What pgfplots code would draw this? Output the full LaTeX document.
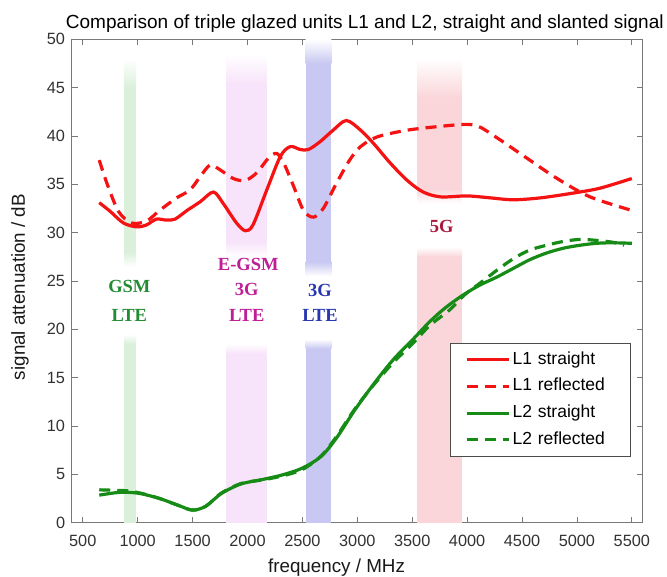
\documentclass[border=0pt]{standalone}
\usepackage{fontspec}
\setmainfont{Liberation Sans}
\newfontfamily\serifb{Liberation Serif}
\usepackage{pgfplots}
\pgfplotsset{compat=1.18}
\definecolor{lone}{RGB}{245,18,18}
\definecolor{ltwo}{RGB}{22,140,22}
\definecolor{bgsm}{RGB}{218,240,218}
\definecolor{begsm}{RGB}{248,228,250}
\definecolor{bthree}{RGB}{200,200,242}
\definecolor{bfive}{RGB}{250,214,218}
\definecolor{tgsm}{RGB}{35,140,50}
\definecolor{tegsm}{RGB}{190,30,150}
\definecolor{tthree}{RGB}{40,55,175}
\definecolor{tfive}{RGB}{170,25,60}
\definecolor{axgray}{RGB}{120,120,120}
\definecolor{tickgray}{RGB}{50,50,50}
% x1 x2 color lowtop-1 lowtop gaptop gaptop+1.5 top-3 top
\newcommand{\band}[9]{%
 \fill[#3] (axis cs:#1,0) rectangle (axis cs:#2,#4);
 \shade[bottom color=#3, top color=white] (axis cs:#1,#4) rectangle (axis cs:#2,#5);
 \shade[bottom color=white, top color=#3] (axis cs:#1,#6) rectangle (axis cs:#2,#7);
 \fill[#3] (axis cs:#1,#7) rectangle (axis cs:#2,#8);
 \shade[bottom color=#3, top color=white] (axis cs:#1,#8) rectangle (axis cs:#2,#9);
}
\begin{document}
\begin{tikzpicture}
\useasboundingbox (-71.8pt,-54.3pt) rectangle (595.2pt,522.7pt);
\begin{axis}[
  scale only axis,
  width=571pt, height=483.4pt,
  xmin=400, xmax=5600, ymin=0, ymax=50,
  xtick={500,1000,...,5500},
  ytick={0,5,...,50},
  tick pos=both,
  tick align=inside,
  major tick length=6pt,
  axis line style={axgray, line width=0.8pt},
  tick style={axgray, line width=0.8pt},
  /pgf/number format/assume math mode=true,
  /pgf/number format/1000 sep={},
  tick label style={font=\fontsize{16.3}{19}\selectfont, text=tickgray},
  xticklabel style={yshift=-9pt},
  yticklabel style={xshift=-3.2pt},
  legend cell align=left,
  legend image code/.code={\draw[#1] (0pt,0pt) -- (42pt,0pt);},
  legend style={at={(axis cs:5493,18.6)}, anchor=north east,
    draw=black!70, line width=0.8pt,
    font=\fontsize{17.5}{21}\selectfont,
    inner xsep=14.5pt, inner ysep=6.5pt,
    row sep=6.7pt,
    nodes={text height=12.5pt, text depth=3.5pt},
    /tikz/every even column/.append style={text width=101.6pt}},
]
\band{875}{985}{bgsm}{18.5}{19.5}{26.5}{28}{45}{48}
\band{1805}{2175}{begsm}{17.5}{18.5}{27.5}{29}{45.5}{48.5}
\band{2530}{2765}{bthree}{18}{19}{25.5}{27}{47.5}{50}
\band{3545}{3955}{bfive}{27.5}{28.5}{33}{34.5}{44}{48}

\node[anchor=base, text=tgsm, font=\serifb\bfseries\fontsize{18.5}{22}\selectfont] at (axis cs:924,23.8) {GSM};
\node[anchor=base, text=tgsm, font=\serifb\bfseries\fontsize{18.5}{22}\selectfont] at (axis cs:924,20.8) {LTE};
\node[anchor=base, text=tegsm, font=\serifb\bfseries\fontsize{18.5}{22}\selectfont] at (axis cs:2007,26.1) {E-GSM};
\node[anchor=base, text=tegsm, font=\serifb\bfseries\fontsize{18.5}{22}\selectfont] at (axis cs:1993,23.5) {3G};
\node[anchor=base, text=tegsm, font=\serifb\bfseries\fontsize{18.5}{22}\selectfont] at (axis cs:1993,20.8) {LTE};
\node[anchor=base, text=tthree, font=\serifb\bfseries\fontsize{18.5}{22}\selectfont] at (axis cs:2660,23.4) {3G};
\node[anchor=base, text=tthree, font=\serifb\bfseries\fontsize{18.5}{22}\selectfont] at (axis cs:2660,20.8) {LTE};
\node[anchor=base, text=tfive, font=\serifb\bfseries\fontsize{18.5}{22}\selectfont] at (axis cs:3769,30.0) {5G};

\addplot[lone, line width=3.2pt, smooth] coordinates {
(650,33.1) (750,32.2) (870,31.0) (990,30.6) (1080,30.8) (1170,31.4) (1260,31.3)
(1340,31.4) (1450,32.3) (1570,33.2) (1690,34.2) (1780,33.0) (1900,31.0) (1980,30.2)
(2050,30.8) (2175,34.4) (2300,37.9) (2390,38.9) (2480,38.6) (2555,38.6) (2660,39.4)
(2780,40.6) (2900,41.6) (3030,40.6) (3150,39.2) (3300,37.2) (3455,35.4) (3600,34.2)
(3760,33.7) (4000,33.8) (4210,33.6) (4420,33.4) (4670,33.6) (4970,34.1) (5210,34.6)
(5500,35.6)};
\addlegendentry{L1 straight}
\addplot[lone, line width=3.2pt, smooth, dash pattern=on 11pt off 7pt] coordinates {
(650,37.5) (720,35.1) (825,32.2) (945,31.0) (1080,31.2) (1200,32.3) (1355,33.6)
(1475,34.4) (1570,35.8) (1660,37.0) (1750,36.5) (1870,35.6) (1980,35.4) (2085,36.2)
(2190,37.7) (2265,38.2) (2330,37.2) (2420,34.8) (2510,32.3) (2600,31.6) (2690,32.5)
(2810,35.1) (2930,37.5) (3030,38.9) (3180,39.9) (3455,40.6) (3760,41.0) (4000,41.2)
(4120,40.9) (4300,39.6) (4545,37.7) (4820,35.6) (5120,33.7) (5500,32.3)};
\addlegendentry{L1 reflected}
\addplot[ltwo, line width=3.2pt, smooth] coordinates {
(650,2.85) (800,3.1) (900,3.15) (1030,3.0) (1200,2.5) (1380,1.75) (1500,1.3)
(1620,1.7) (1760,3.0) (1940,4.0) (2150,4.5) (2320,4.95) (2500,5.65) (2670,6.85)
(2810,8.75) (2980,11.7) (3160,14.5) (3330,16.9) (3510,19.0) (3660,20.8) (3810,22.3)
(3970,23.6) (4120,24.6) (4270,25.4) (4420,26.3) (4570,27.2) (4725,27.9) (4880,28.4)
(5030,28.7) (5180,28.9) (5330,28.95) (5500,28.9)};
\addlegendentry{L2 straight}
\addplot[ltwo, line width=3.2pt, smooth, dash pattern=on 11pt off 7pt] coordinates {
(650,3.4) (800,3.35) (900,3.3) (1030,3.05) (1200,2.5) (1380,1.75) (1500,1.3)
(1620,1.7) (1760,3.05) (1940,4.05) (2150,4.45) (2320,4.85) (2500,5.5) (2670,6.9)
(2810,8.9) (2980,11.8) (3160,14.4) (3330,16.6) (3510,18.6) (3660,20.4) (3840,22.0)
(3970,23.5) (4120,24.8) (4270,26.1) (4420,27.3) (4570,28.2) (4725,28.7) (4880,29.1)
(5030,29.3) (5180,29.2) (5330,29.0) (5430,28.7)};
\addlegendentry{L2 reflected}
\end{axis}
\node[anchor=base, font=\fontsize{19}{23}\selectfont] at (293pt,494.4pt)
  {Comparison of triple glazed units L1 and L2, straight and slanted signal};
\node[anchor=base, font=\fontsize{18.8}{23}\selectfont, text=black!90] at (264.7pt,-50pt)
  {frequency / MHz};
\node[rotate=90, anchor=center, font=\fontsize{18.8}{23}\selectfont, text=black!90] at (-51.8pt,235.7pt)
  {signal attenuation / dB};
\end{tikzpicture}
\end{document}
